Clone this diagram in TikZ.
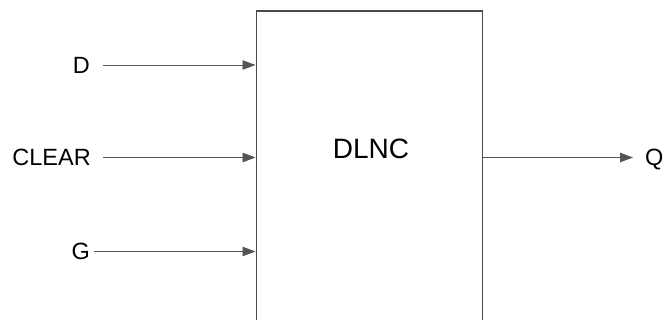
\documentclass[tikz,border=0pt]{standalone}
\usepackage{fontspec}
\setmainfont{Liberation Sans}
\usetikzlibrary{arrows.meta}
\definecolor{linegray}{HTML}{555555}
\definecolor{boxgray}{HTML}{4A4A4A}
\begin{document}
\begin{tikzpicture}[x=1pt,y=-1pt,
  sig/.style={font=\fontsize{23.5}{26}\selectfont, inner sep=0pt, text depth=0pt},
  wire/.style={draw=linegray, line width=0.9pt, -{Triangle[length=13pt,width=9.5pt]}},
  blk/.style={draw=boxgray, line width=1.1pt, fill=white, inner sep=0pt}]
\useasboundingbox (0,0) rectangle (663,320);
\node[blk, minimum width=226pt, minimum height=340pt, anchor=north west] (box) at (255.5,10.5) {};
\node[font=\fontsize{28}{32}\selectfont, inner sep=0pt, text depth=0pt] (lbl) at (371,149) {DLNC};
\node[sig, anchor=east] (D) at (90,65) {D};
\node[sig, anchor=east] (C) at (91,157.5) {CLEAR};
\node[sig, anchor=east] (G) at (90,251.5) {G};
\node[sig, anchor=west] (Q) at (645,157.5) {Q};
\draw[wire] ([xshift=13pt]D.east) -- (box.west |- D.east);
\draw[wire] ([xshift=12pt]C.east) -- (box.west |- C.east);
\draw[wire] ([xshift=4pt]G.east) -- (box.west |- G.east);
\draw[wire] (box.east |- Q.west) -- ([xshift=-12pt]Q.west);
\end{tikzpicture}
\end{document}
